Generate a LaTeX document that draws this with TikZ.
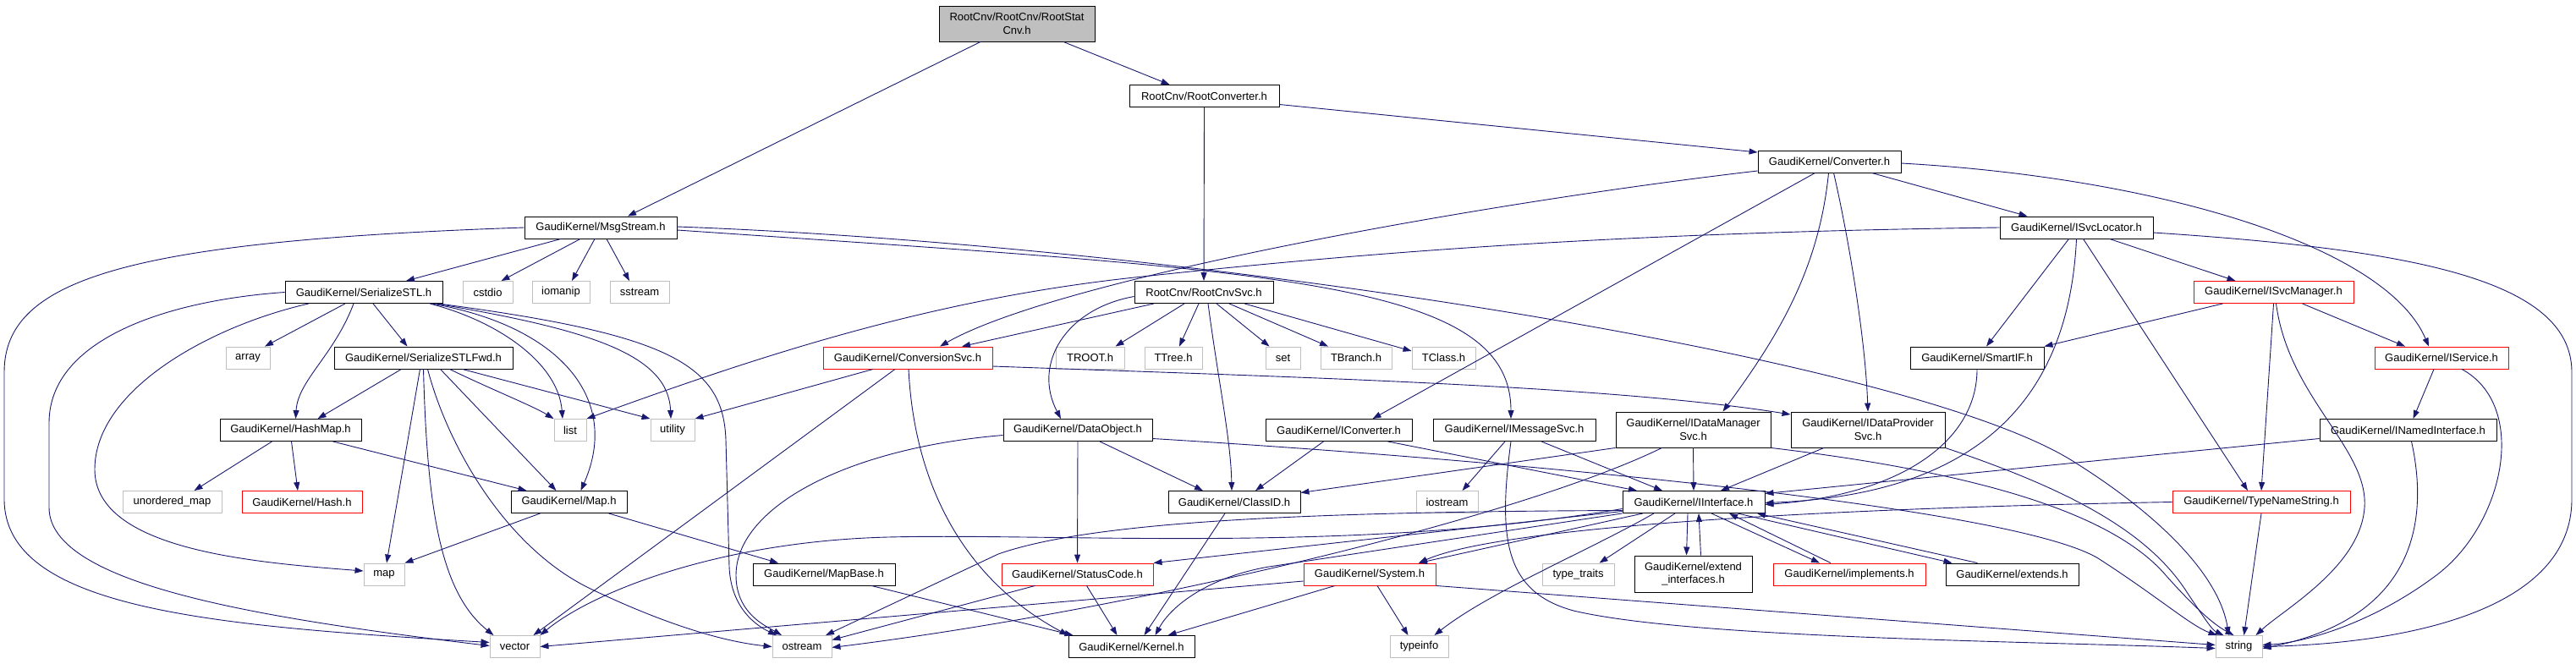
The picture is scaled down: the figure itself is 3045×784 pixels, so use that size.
\documentclass[tikz,border=0pt]{standalone}
\usepackage{fontspec}
\setmainfont{Liberation Sans}
\usetikzlibrary{arrows.meta}
\definecolor{edgecol}{HTML}{191970}
\definecolor{extcol}{HTML}{BFBFBF}
\definecolor{trunccol}{HTML}{FF0000}
\definecolor{rootfill}{HTML}{BFBFBF}
\begin{document}
\begin{tikzpicture}[x=1pt,y=-1pt,
  bx/.style={draw=black, fill=white, line width=0.9pt, inner sep=0pt, minimum height=26pt, align=center, font=\fontsize{13}{15.5}\selectfont},
  nb/.style={bx},
  nr/.style={bx, draw=trunccol},
  ng/.style={bx, draw=extcol},
  lnk/.style={draw=edgecol, line width=0.9pt, -{Triangle[length=10pt,width=7pt]}}]
\useasboundingbox (0,0) rectangle (3045,784);
% rank 0-3
\node[nb, fill=rootfill, minimum width=184pt, minimum height=42pt] (stat) at (1202,28) {RootCnv/RootCnv/RootStat\\Cnv.h};
\node[nb, minimum width=177pt] (rconv) at (1423.5,113.5) {RootCnv/RootConverter.h};
\node[nb, minimum width=169pt] (conv) at (2162.5,191) {GaudiKernel/Converter.h};
\node[nb, minimum width=180pt] (msg) at (710,269) {GaudiKernel/MsgStream.h};
\node[nb, minimum width=181pt] (svcloc) at (2454.5,269) {GaudiKernel/ISvcLocator.h};
% rank 4
\node[nb, minimum width=186pt] (sstl) at (430,345.5) {GaudiKernel/SerializeSTL.h};
\node[ng, minimum width=59pt] (cstdio) at (576.5,345.5) {cstdio};
\node[ng, minimum width=68pt] (iomanip) at (663,345.5) {iomanip};
\node[ng, minimum width=70pt] (sstream) at (756,345.5) {sstream};
\node[nb, minimum width=164pt] (rcsvc) at (1423,345.5) {RootCnv/RootCnvSvc.h};
\node[nr, minimum width=189pt] (svcmgr) at (2687.5,345.5) {GaudiKernel/ISvcManager.h};
% rank 5
\node[ng, minimum width=52pt] (array) at (293,423) {array};
\node[nb, minimum width=211pt] (sstlfwd) at (500.5,423) {GaudiKernel/SerializeSTLFwd.h};
\node[nr, minimum width=200pt] (convsvc) at (1073,423) {GaudiKernel/ConversionSvc.h};
\node[ng, minimum width=81pt] (troot) at (1288.5,423) {TROOT.h};
\node[ng, minimum width=68pt] (ttree) at (1387,423) {TTree.h};
\node[ng, minimum width=41pt] (setn) at (1516.5,423) {set};
\node[ng, minimum width=84pt] (tbranch) at (1603,423) {TBranch.h};
\node[ng, minimum width=75pt] (tclass) at (1706.5,423) {TClass.h};
\node[nb, minimum width=158pt] (smartif) at (2337,423) {GaudiKernel/SmartIF.h};
\node[nr, minimum width=158pt] (iservice) at (2886,423) {GaudiKernel/IService.h};
% rank 6
\node[nb, minimum width=167pt] (hashmap) at (343.5,508.5) {GaudiKernel/HashMap.h};
\node[ng, minimum width=38pt] (list) at (674,508.5) {list};
\node[ng, minimum width=52pt] (utility) at (795,508.5) {utility};
\node[nb, minimum width=176pt] (dataobj) at (1274,508.5) {GaudiKernel/DataObject.h};
\node[nb, minimum width=173pt] (iconv) at (1582.5,508.5) {GaudiKernel/IConverter.h};
\node[nb, minimum width=192pt] (imsg) at (1790,508.5) {GaudiKernel/IMessageSvc.h};
\node[nb, minimum width=183pt, minimum height=42pt] (idm) at (2001.5,508) {GaudiKernel/IDataManager\\Svc.h};
\node[nb, minimum width=182pt, minimum height=42pt] (idp) at (2208,508) {GaudiKernel/IDataProvider\\Svc.h};
\node[nb, minimum width=209pt] (inamed) at (2846.5,508.5) {GaudiKernel/INamedInterface.h};
% rank 7
\node[ng, minimum width=117pt] (umap) at (203.5,593.5) {unordered\_map};
\node[nr, minimum width=142pt] (hash) at (357,593.5) {GaudiKernel/Hash.h};
\node[nb, minimum width=137pt] (mapH) at (672.5,593.5) {GaudiKernel/Map.h};
\node[nb, minimum width=156pt] (classid) at (1459,593.5) {GaudiKernel/ClassID.h};
\node[ng, minimum width=73pt] (iostream) at (1710.5,593.5) {iostream};
\node[nb, minimum width=168pt] (iinterface) at (2002,593.5) {GaudiKernel/IInterface.h};
\node[nr, minimum width=210pt] (typename) at (2673,593.5) {GaudiKernel/TypeNameString.h};
% rank 8
\node[ng, minimum width=48pt] (map) at (454,679) {map};
\node[nb, minimum width=168pt] (mapbase) at (974,679) {GaudiKernel/MapBase.h};
\node[nr, minimum width=179pt] (statuscode) at (1273.5,679) {GaudiKernel/StatusCode.h};
\node[nr, minimum width=156pt] (system) at (1619,679) {GaudiKernel/System.h};
\node[ng, minimum width=85pt] (typetraits) at (1865.5,679) {type\_traits};
\node[nb, minimum width=139pt, minimum height=43pt] (extif) at (2001.5,678.5) {GaudiKernel/extend\\\_interfaces.h};
\node[nr, minimum width=180pt] (implements) at (2186,679) {GaudiKernel/implements.h};
\node[nb, minimum width=157pt] (extends) at (2378.5,679) {GaudiKernel/extends.h};
% rank 9
\node[ng, minimum width=59pt] (vector) at (608.5,764.5) {vector};
\node[ng, minimum width=70pt] (ostream) at (948,764.5) {ostream};
\node[nb, minimum width=149pt] (kernel) at (1337.5,764.5) {GaudiKernel/Kernel.h};
\node[ng, minimum width=69pt] (typeinfo) at (1677.5,764.5) {typeinfo};
\node[ng, minimum width=55pt] (string) at (2646.5,764.5) {string};

% ---- edges ----
\draw[lnk] ([xshift=-43]stat.south) -- ([xshift=32]msg.north);
\draw[lnk] ([xshift=55]stat.south) -- ([xshift=-41]rconv.north);
\draw[lnk] ([yshift=-10]rconv.east) -- ([yshift=11]conv.west);
\draw[lnk] (rconv.south) -- (rcsvc.north);
% Converter
\draw[lnk] ([xshift=50]conv.south) -- ([xshift=-58]svcloc.north);
\draw[lnk] ([yshift=-11]conv.west) .. controls (1750,240) and (1250,330) .. ([xshift=38]convsvc.north);
\draw[lnk] ([xshift=-17]conv.south) -- ([xshift=40]iconv.north);
\draw[lnk] ([xshift=-1]conv.south) .. controls (2150,320) and (2100,400) .. ([xshift=35]idm.north);
\draw[lnk] ([xshift=5]conv.south) .. controls (2185,280) and (2205,400) .. (idp.north);
\draw[lnk] ([yshift=-2]conv.east) .. controls (2550,210) and (2820,290) .. ([xshift=-15]iservice.north);
% MsgStream
\draw[lnk] (msg.west) .. controls (150,285) and (5,330) .. (5,440) -- (5,590) .. controls (5,720) and (250,740) .. ([yshift=5]vector.west);
\draw[lnk] ([xshift=-47]msg.south) -- ([xshift=50]sstl.north);
\draw[lnk] ([xshift=-24]msg.south) -- ([xshift=16]cstdio.north);
\draw[lnk] ([xshift=-7]msg.south) -- ([xshift=13]iomanip.north);
\draw[lnk] ([xshift=7]msg.south) -- ([xshift=-12]sstream.north);
\draw[lnk] ([yshift=1]msg.east) .. controls (1400,290) and (2250,420) .. (2450,545) .. controls (2570,620) and (2625,690) .. ([xshift=-12]string.north);
\draw[lnk] ([yshift=-3]msg.east) .. controls (1500,320) and (1786,330) .. ([xshift=-4]imsg.north);
% SerializeSTL
\draw[lnk] (sstl.west) .. controls (200,355) and (58,400) .. (58,500) -- (58,600) .. controls (58,690) and (300,730) .. ([yshift=1]vector.west);
\draw[lnk] ([xshift=-65]sstl.south) .. controls (250,385) and (112,460) .. (112,555) .. controls (112,650) and (300,665) .. ([yshift=4]map.west);
\draw[lnk] ([xshift=-22]sstl.south) -- ([xshift=20]array.north);
\draw[lnk] ([xshift=-12]sstl.south) .. controls (395,420) and (352,450) .. ([xshift=6]hashmap.north);
\draw[lnk] ([xshift=11]sstl.south) -- ([xshift=-19]sstlfwd.north);
\draw[lnk] ([xshift=78]sstl.south) .. controls (590,380) and (660,430) .. ([xshift=-9]list.north);
\draw[lnk] ([xshift=80]sstl.south) .. controls (660,385) and (735,470) .. ([xshift=14]mapH.north);
\draw[lnk] ([xshift=85]sstl.south) .. controls (700,390) and (790,420) .. ([xshift=-2]utility.north);
\draw[lnk] ([xshift=88]sstl.south) .. controls (790,395) and (855,430) .. (858,520) -- (862,670) .. controls (864,720) and (895,740) .. ([xshift=-30]ostream.north);
% SerializeSTLFwd
\draw[lnk] ([xshift=-26]sstlfwd.south) -- ([xshift=32]hashmap.north);
\draw[lnk] ([xshift=-4]sstlfwd.south) -- ([xshift=3]map.north);
\draw[lnk] (sstlfwd.south) .. controls (505,600) and (520,700) .. ([xshift=-25]vector.north);
\draw[lnk] ([xshift=5]sstlfwd.south) .. controls (530,530) and (600,650) .. (700,697) .. controls (780,735) and (850,758) .. (ostream.west);
\draw[lnk] ([xshift=20]sstlfwd.south) -- ([xshift=-15]mapH.north);
\draw[lnk] ([xshift=31]sstlfwd.south) .. controls (580,460) and (630,480) .. (list.north west);
\draw[lnk] ([xshift=46]sstlfwd.south) -- (utility.north west);
% HashMap, Map
\draw[lnk] ([xshift=-22]hashmap.south) -- ([xshift=26]umap.north);
\draw[lnk] ([xshift=1]hashmap.south) -- ([xshift=-5]hash.north);
\draw[lnk] ([xshift=50]hashmap.south) -- ([xshift=-50]mapH.north);
\draw[lnk] ([xshift=-34]mapH.south) -- (map.north east);
\draw[lnk] ([xshift=47]mapH.south) -- ([xshift=-54]mapbase.north);
% RootCnvSvc
\draw[lnk] ([yshift=-5]rcsvc.west) .. controls (1260,365) and (1220,430) .. ([xshift=-20]dataobj.north);
\draw[lnk] ([xshift=-59]rcsvc.south) -- ([xshift=64]convsvc.north);
\draw[lnk] ([xshift=-23]rcsvc.south) -- ([xshift=30]troot.north);
\draw[lnk] ([xshift=-6]rcsvc.south) -- ([xshift=7]ttree.north);
\draw[lnk] ([xshift=5]rcsvc.south) .. controls (1440,450) and (1455,520) .. ([xshift=-3]classid.north);
\draw[lnk] ([xshift=15]rcsvc.south) -- ([xshift=-16]setn.north);
\draw[lnk] ([xshift=30]rcsvc.south) -- ([xshift=-33]tbranch.north);
\draw[lnk] ([xshift=48]rcsvc.south) -- ([yshift=8]tclass.west);
% ConversionSvc
\draw[lnk] ([xshift=-41]convsvc.south) -- (utility.north east);
\draw[lnk] ([xshift=-15]convsvc.south) -- ([xshift=22]vector.north);
\draw[lnk] ([xshift=1]convsvc.south) .. controls (1080,560) and (1130,680) .. (kernel.north west);
\draw[lnk] ([yshift=-10]convsvc.east) .. controls (1500,445) and (1900,455) .. ([yshift=18]idp.west);
% DataObject
\draw[lnk] ([yshift=-6]dataobj.west) .. controls (1000,530) and (870,600) .. (870,680) .. controls (870,725) and (905,740) .. ([xshift=-24]ostream.north);
\draw[lnk] (dataobj.south) -- (statuscode.north);
\draw[lnk] ([xshift=26]dataobj.south) -- ([xshift=-37]classid.north);
\draw[lnk] ([yshift=-10]dataobj.east) .. controls (1800,545) and (2380,600) .. (2480,660) .. controls (2550,705) and (2590,740) .. ([xshift=2]string.north west);
% IConverter, IMessageSvc
\draw[lnk] ([xshift=-18]iconv.south) -- ([xshift=25]classid.north);
\draw[lnk] ([xshift=58]iconv.south) -- ([xshift=-67]iinterface.north);
\draw[lnk] ([xshift=-11]imsg.south) -- ([xshift=18]iostream.north);
\draw[lnk] ([xshift=32]imsg.south) -- ([xshift=-37]iinterface.north);
\draw[lnk] ([xshift=-4]imsg.south) .. controls (1770,640) and (1780,700) .. (1860,722) .. controls (2000,755) and (2400,758) .. ([yshift=-2]string.west);
% IDataManagerSvc, IDataProviderSvc
\draw[lnk] (idm.south west) -- ([yshift=11]classid.east);
\draw[lnk] (idm.south) -- (iinterface.north);
\draw[lnk] ([xshift=-37]idm.south) .. controls (1800,610) and (1350,720) .. ([yshift=-1]ostream.east);
\draw[lnk] (idm.south east) .. controls (2350,560) and (2500,610) .. (2560,680) .. controls (2600,725) and (2620,740) .. ([xshift=-6]string.north);
\draw[lnk] ([xshift=-52]idp.south) -- ([xshift=32]iinterface.north);
\draw[lnk] (idp.south east) .. controls (2450,580) and (2540,630) .. (2585,700) .. controls (2605,730) and (2615,745) .. ([xshift=-18]string.north);
% ClassID, StatusCode, MapBase, System
\draw[lnk] ([xshift=-11]classid.south) -- ([xshift=15]kernel.north);
\draw[lnk] ([xshift=-50]statuscode.south) -- ([yshift=8]ostream.east);
\draw[lnk] ([xshift=11]statuscode.south) -- ([xshift=-17]kernel.north);
\draw[lnk] ([xshift=56]mapbase.south) -- ([xshift=6]kernel.north west);
\draw[lnk] ([xshift=-41]system.south) -- ([xshift=43]kernel.north);
\draw[lnk] ([xshift=9]system.south) -- ([xshift=-13]typeinfo.north);
\draw[lnk] (system.south east) -- ([yshift=2]string.west);
\draw[lnk] ([yshift=-8]system.west) -- (vector.east);
% IInterface
\draw[lnk] ([yshift=-8]iinterface.west) .. controls (1600,655) and (1250,630) .. (1050,635) .. controls (850,640) and (700,700) .. (vector.north east);
\draw[lnk] ([yshift=-10]iinterface.west) .. controls (1500,605) and (1280,620) .. (1180,655) -- ([xshift=28]ostream.north);
\draw[lnk] ([yshift=-11]iinterface.west) -- (statuscode.north east);
\draw[lnk] (iinterface.south west) -- (1500,670) .. controls (1430,682) and (1385,715) .. ([xshift=28]kernel.north);
\draw[lnk] ([xshift=-60]iinterface.south) -- ([xshift=58]system.north);
\draw[lnk] ([xshift=-22]iinterface.south) -- ([xshift=25]typetraits.north);
\draw[lnk] ([xshift=-47]iinterface.south) .. controls (1880,650) and (1760,700) .. ([xshift=18]typeinfo.north);
\draw[lnk] ([xshift=-7]iinterface.south) -- ([xshift=-8]extif.north);
\draw[lnk] ([xshift=9]extif.north) -- ([xshift=6]iinterface.south);
\draw[lnk] ([xshift=21]iinterface.south) -- ([xshift=-35]implements.north);
\draw[lnk] ([xshift=-22]implements.north) -- ([xshift=42]iinterface.south);
\draw[lnk] ([xshift=52]iinterface.south) -- ([xshift=-71]extends.north);
\draw[lnk] ([xshift=-41]extends.north) -- ([xshift=75]iinterface.south);
% ISvcLocator
\draw[lnk] (svcloc.west) .. controls (1900,275) and (1600,300) .. (1341,328) .. controls (1100,354) and (900,420) .. (list.north east);
\draw[lnk] ([xshift=-9]svcloc.south) -- ([xshift=11]smartif.north);
\draw[lnk] (svcloc.south) .. controls (2445,480) and (2330,585) .. ([yshift=-1]iinterface.east);
\draw[lnk] ([xshift=8]svcloc.south) -- ([xshift=-16]typename.north);
\draw[lnk] ([xshift=39]svcloc.south) -- ([xshift=-45]svcmgr.north);
\draw[lnk] ([yshift=-6]svcloc.east) .. controls (2850,295) and (3040,330) .. (3040,440) -- (3040,590) .. controls (3040,720) and (2850,760) .. (string.east);
% ISvcManager
\draw[lnk] ([xshift=-60]svcmgr.south) -- (smartif.north east);
\draw[lnk] (svcmgr.south) -- (typename.north);
\draw[lnk] ([xshift=3]svcmgr.south) .. controls (2705,470) and (2800,530) .. (2795,600) .. controls (2790,670) and (2700,720) .. ([xshift=20]string.north);
\draw[lnk] ([xshift=34]svcmgr.south) -- ([xshift=-43]iservice.north);
% IService, INamedInterface, SmartIF, TypeNameString
\draw[lnk] ([xshift=-9]iservice.south) -- ([xshift=6]inamed.north);
\draw[lnk] ([xshift=24]iservice.south) .. controls (2990,480) and (2960,620) .. (2880,680) .. controls (2800,740) and (2720,760) .. ([yshift=2]string.east);
\draw[lnk] ([yshift=-10]inamed.west) -- ([yshift=10]iinterface.east);
\draw[lnk] ([xshift=4]inamed.south) .. controls (2870,610) and (2860,730) .. ([yshift=-2]string.east);
\draw[lnk] (smartif.south) .. controls (2337,520) and (2250,585) .. ([yshift=-3]iinterface.east);
\draw[lnk] (typename.south) -- ([xshift=6]string.north);
\draw[lnk] (typename.west) .. controls (2200,600) and (1780,620) .. ([xshift=58]system.north);
\end{tikzpicture}
\end{document}
